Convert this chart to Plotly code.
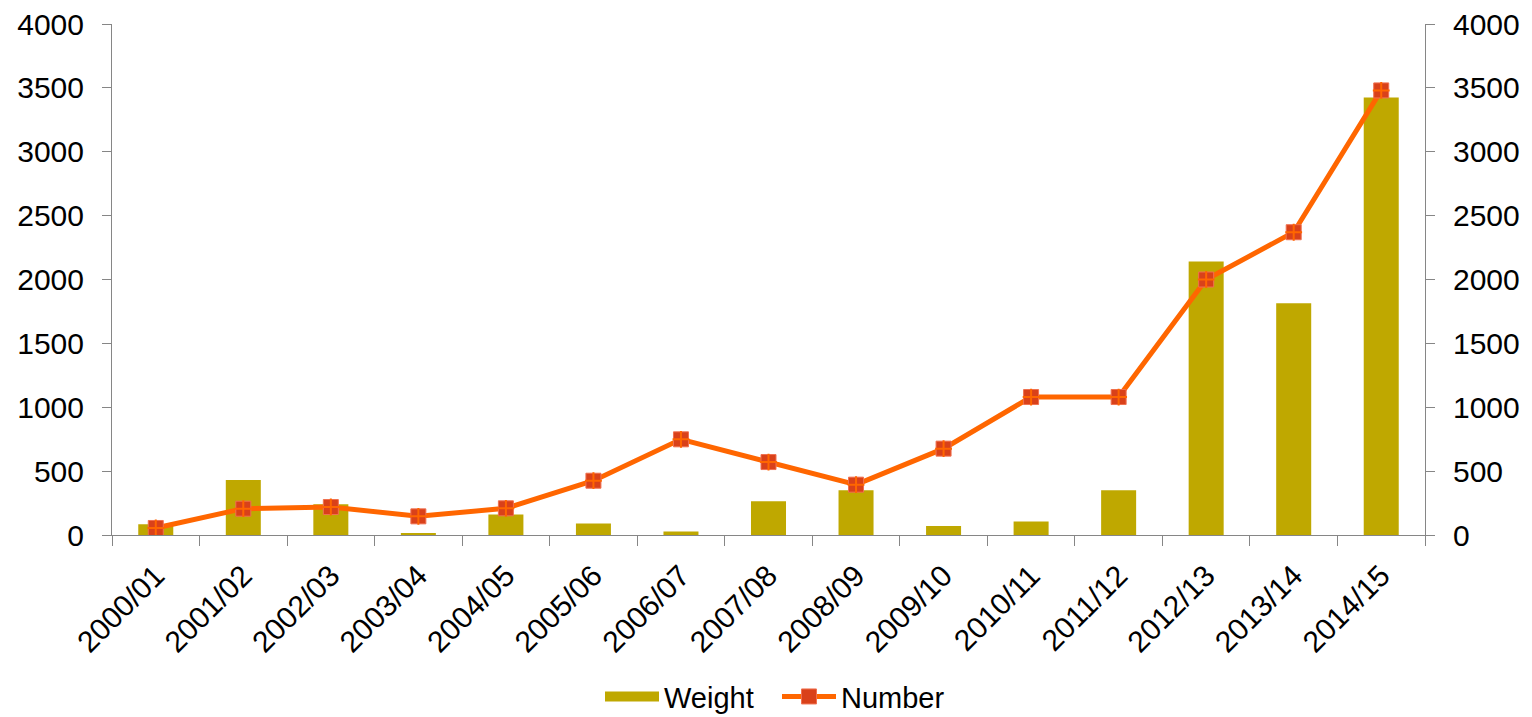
import plotly.graph_objects as go

seasons = ["2000/01", "2001/02", "2002/03", "2003/04", "2004/05", "2005/06",
           "2006/07", "2007/08", "2008/09", "2009/10", "2010/11", "2011/12",
           "2012/13", "2013/14", "2014/15"]
weight = [85, 430, 240, 10, 160, 90, 28, 265, 350, 70, 105, 350, 2140, 1815, 3425]
number = [55, 206, 219, 146, 209, 425, 749, 571, 394, 676, 1080, 1080, 2000, 2370, 3480]

y_ticks = [0, 500, 1000, 1500, 2000, 2500, 3000, 3500, 4000]

FONT = "Liberation Sans, Arial, sans-serif"
FONT_SIZE = 30
AXIS_GREY = "#868686"
BAR_COLOR = "#BFA800"
LINE_COLOR = "#FF6600"
MARKER_COLOR = "#D9411A"

fig = go.Figure()

fig.add_trace(go.Bar(
    x=seasons, y=weight, name="Weight", showlegend=False,
    marker=dict(color=BAR_COLOR, line=dict(width=0)),
    width=0.4,
))

# wide swatch for the Weight legend entry
fig.add_trace(go.Scatter(
    x=[None], y=[None], name="Weight", mode="lines",
    line=dict(color=BAR_COLOR, width=14),
))

fig.add_trace(go.Scatter(
    x=seasons, y=number, name="Number", yaxis="y2",
    mode="lines+markers",
    line=dict(color=LINE_COLOR, width=5),
    marker=dict(symbol="square", size=15, color=MARKER_COLOR,
                line=dict(color="#F07050", width=1)),
))

# orange cross drawn inside each square marker
fig.add_trace(go.Scatter(
    x=seasons, y=number, yaxis="y2", mode="markers", showlegend=False,
    hoverinfo="skip",
    marker=dict(symbol="cross-thin", size=12,
                line=dict(color=LINE_COLOR, width=2)),
))

axis_common = dict(
    range=[0, 4000], tickvals=y_ticks, showgrid=False, zeroline=False,
    showline=True, linecolor=AXIS_GREY, linewidth=1,
    ticks="outside", ticklen=9, tickcolor=AXIS_GREY, automargin=False,
    ticklabelstandoff=12,
    tickfont=dict(family=FONT, size=FONT_SIZE, color="#000000"),
)

fig.update_layout(
    width=1532, height=717,
    margin=dict(l=112, r=107, t=24, b=182),
    plot_bgcolor="white", paper_bgcolor="white",
    font=dict(family=FONT, size=FONT_SIZE, color="#000000"),
    xaxis=dict(
        type="category", range=[-0.5, 14.5], automargin=False,
        showgrid=False, showline=True, linecolor=AXIS_GREY,
        linewidth=1, ticks="outside", ticklen=10, tickcolor=AXIS_GREY,
        tickson="boundaries", tickangle=-45, ticklabelstandoff=10,
        tickfont=dict(family=FONT, size=FONT_SIZE, color="#000000"),
    ),
    yaxis=dict(side="left", **axis_common),
    yaxis2=dict(side="right", overlaying="y", **axis_common),
    legend=dict(orientation="h",
                xref="container", x=600 / 1532, xanchor="left",
                yref="container", y=0.064, yanchor="top",
                font=dict(family=FONT, size=29),
                itemwidth=54, entrywidth=108, entrywidthmode="pixels"),
    showlegend=True,
)

fig.write_html("out.html")
